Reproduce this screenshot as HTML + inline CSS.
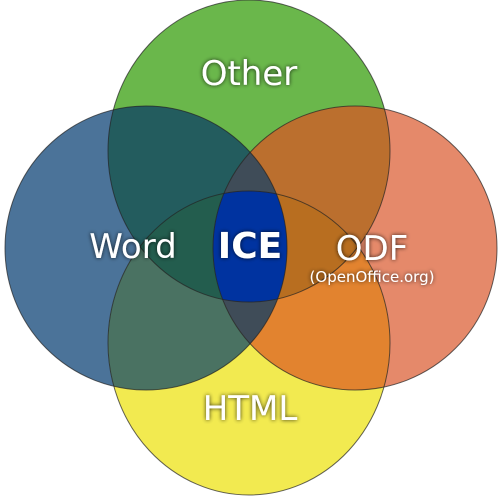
<!DOCTYPE html>
<html><head><meta charset="utf-8"><style>
html,body{margin:0;padding:0;background:#fff}
svg{display:block}
text{font-family:"DejaVu Sans","Liberation Sans",sans-serif;fill:#fff;text-anchor:middle}
</style></head><body>
<svg width="500" height="500" viewBox="0 0 500 500">
<defs>
<ellipse id="cO" cx="249" cy="151" rx="141" ry="151"/>
<ellipse id="cW" cx="146" cy="248" rx="141" ry="142"/>
<ellipse id="cD" cx="355" cy="248" rx="142" ry="142"/>
<ellipse id="cH" cx="249" cy="343" rx="141" ry="152"/>
<clipPath id="kO"><use href="#cO"/></clipPath>
<clipPath id="kW"><use href="#cW"/></clipPath>
<clipPath id="kD"><use href="#cD"/></clipPath>
<clipPath id="kH"><use href="#cH"/></clipPath>
<filter id="glow" x="-20%" y="-40%" width="140%" height="180%">
<feGaussianBlur in="SourceAlpha" stdDeviation="2"/>
<feComponentTransfer><feFuncA type="linear" slope="0.8"/></feComponentTransfer>
<feMerge><feMergeNode/><feMergeNode in="SourceGraphic"/></feMerge>
</filter>
</defs>
<g>
<use href="#cO" fill="#6ab74b"/>
<use href="#cW" fill="#4b7399"/>
<use href="#cD" fill="#e5896a"/>
<use href="#cH" fill="#f2ea50"/>
<g clip-path="url(#kO)"><use href="#cW" fill="#235c5e"/><use href="#cD" fill="#bb6f2e"/><use href="#cH" fill="#235d4e"/></g>
<g clip-path="url(#kH)"><use href="#cW" fill="#4a7262"/><use href="#cD" fill="#e2832f"/></g>
<g clip-path="url(#kW)"><use href="#cD" fill="#3f4c58"/></g>
<g clip-path="url(#kO)"><g clip-path="url(#kH)">
<use href="#cW" fill="#235d4e"/><use href="#cD" fill="#b86e20"/>
<g clip-path="url(#kW)"><use href="#cD" fill="#0033a0"/></g>
</g></g>
<g fill="none" stroke="#222" stroke-opacity="0.7" stroke-width="1">
<use href="#cO"/><use href="#cW"/><use href="#cD"/><use href="#cH"/>
</g>
</g>
<g filter="url(#glow)">
<text x="249" y="85" font-size="34">Other</text>
<text x="133" y="258" font-size="34">Word</text>
<text x="250" y="258" font-size="36" font-weight="bold">ICE</text>
<text x="372" y="260" font-size="34">ODF</text>
<text x="372" y="282" font-size="15">(OpenOffice.org)</text>
<text x="250" y="420" font-size="34">HTML</text>
</g>
</svg>
</body></html>
